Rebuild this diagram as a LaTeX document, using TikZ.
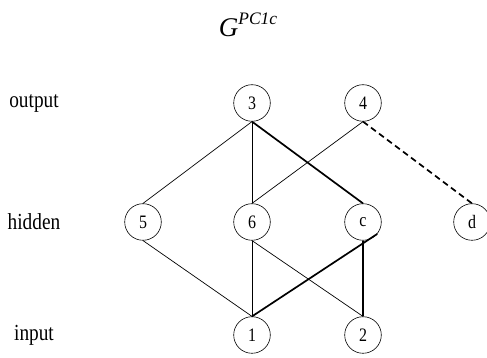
\documentclass[tikz,border=0pt]{standalone}
\usepackage{fontspec}
\setmainfont{Liberation Serif}
\newfontfamily\narrowserif[FakeStretch=0.84]{Liberation Serif}
\usetikzlibrary{positioning}

\tikzset{
  vertex/.style={draw, circle, minimum size=36.6pt, inner sep=0pt, line width=0.6pt, font=\narrowserif\fontsize{19}{19}\selectfont},
  layer/.style={font=\narrowserif\fontsize{23}{23}\selectfont},
  thin edge/.style={line width=0.7pt},
  thick edge/.style={line width=1.7pt},
  new edge/.style={line width=1.7pt, dash pattern=on 6pt off 4pt}
}

\begin{document}
\begin{tikzpicture}[x=1pt, y=1pt]
  \useasboundingbox (0,0) rectangle (487,358);

  % Заголовок
  \node (title) at (248,333) {\fontsize{27}{27}\selectfont\itshape G\raisebox{12pt}{\fontsize{17.5}{17.5}\selectfont PC1c}};

  % Подписи слоёв
  \node[layer] (lout) at (34,255) {output};
  \node[layer] (lhid) at (34,136) {hidden};
  \node[layer] (lin)  at (34,23)  {input};

  % Вершины
  \node[vertex] (v3) at (252,255) {3};
  \node[vertex] (v4) at (363,255) {4};
  \node[vertex] (v5) at (143,136) {5};
  \node[vertex] (v6) at (252,136) {6};
  \node[vertex] (vc) at (363,136) {c};
  \node[vertex] (vd) at (472,136) {d};
  \node[vertex] (v1) at (252,23)  {1};
  \node[vertex] (v2) at (363,23)  {2};

  % Рёбра
  \draw[thin edge] (v3.south) -- (v5.north);
  \draw[thin edge] (v3.south) -- (v6.north);
  \draw[thin edge] (v4.south) -- (v6.north);
  \draw[thin edge] (v5.south) -- (v1.north);
  \draw[thin edge] (v6.south) -- (v1.north);
  \draw[thin edge] (v6.south) -- (v2.north);
  \draw[thick edge] (v3.south) -- (vc.north);
  \draw[thick edge] (vc.-40) -- (v1.north);
  \draw[thick edge] (vc.south) -- (v2.north);
  \draw[new edge] (v4.south) -- (vd.north);
\end{tikzpicture}
\end{document}
